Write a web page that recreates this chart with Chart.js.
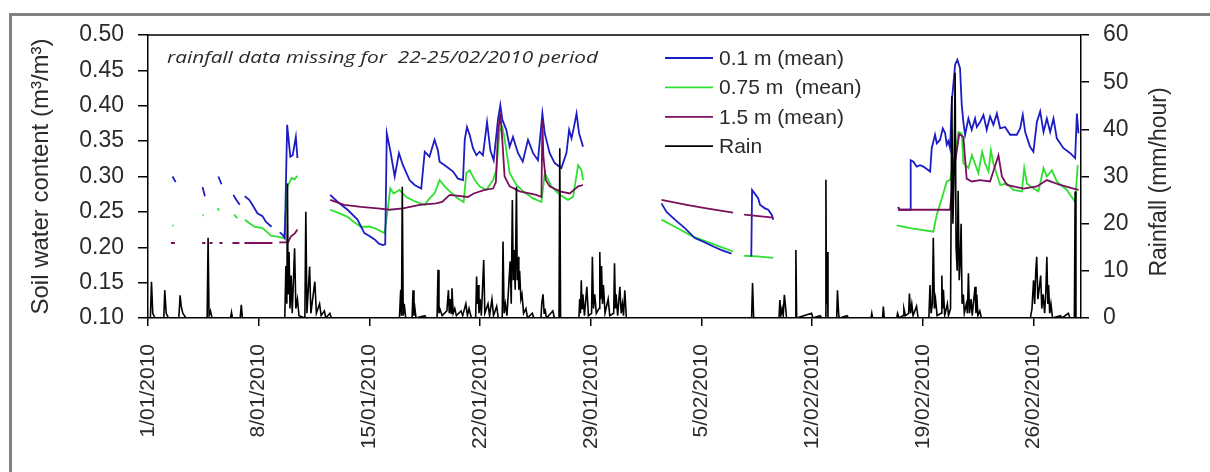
<!DOCTYPE html>
<html>
<head>
<meta charset="utf-8">
<script src="https://cdn.jsdelivr.net/npm/chart.js@4/dist/chart.umd.min.js"></script>
<style>
  html, body { margin: 0; padding: 0; background: #fff; overflow: hidden; }
  #frame { position: absolute; left: 9px; top: 13px; right: 0; bottom: 0;
           border-top: 3px solid #808080; border-left: 3px solid #808080; }
  #c { position: absolute; left: 0; top: 0; }
</style>
</head>
<body>
<div id="frame"></div>
<canvas id="c" width="1210" height="472"></canvas>
<script>
// days counted from 1/01/2010 00:00, null value = gap in record
const tickLabels = ['1/01/2010', '8/01/2010', '15/01/2010', '22/01/2010', '29/01/2010',
                    '5/02/2010', '12/02/2010', '19/02/2010', '26/02/2010'];

const blueDays = [1.55, 1.75, 2.5, 3.45, 3.6, 4.0, 4.45, 4.65, 5.0, 5.4, 5.55, 5.8, 5.95,
  6.12, 6.4, 6.6, 6.92, 7.24, 7.45, 7.81, 8.1, 8.33, 8.5, 8.65, 8.8, 9.0, 9.15, 9.35, 9.45, 10.5,
  11.52, 12.0, 12.62, 13.25, 13.68, 14.0, 14.33, 14.6, 14.85, 15.0, 15.1, 15.32, 15.6, 15.87,
  16.12, 16.54, 16.86, 17.28, 17.5, 17.8, 18.12, 18.33, 18.44, 18.87, 19.29, 19.6, 19.92, 20.03,
  20.17, 20.34, 20.55, 20.77, 20.97, 21.18, 21.44, 21.65, 21.86, 22.13, 22.28, 22.41, 22.66,
  22.87, 23.08, 23.4, 23.7, 24.03, 24.35, 24.66, 24.94, 25.09, 25.4, 25.72, 26.14, 26.46, 26.63,
  26.78, 26.92, 27.1, 27.26, 27.51, 30,
  32.47, 32.79, 33.32, 33.95, 34.58, 35.11, 35.74, 36.27, 36.9, 37.5, 38.15, 38.2, 38.59, 38.7,
  39.01, 39.22, 39.44, 39.54, 43,
  47.45, 47.5, 48.19, 48.23, 48.4, 48.61, 48.82, 49.03, 49.46, 49.56, 49.77, 49.88, 50.09, 50.26,
  50.41, 50.51, 50.61, 50.72, 50.83, 51.04, 51.18, 51.35, 51.46, 51.56, 51.67, 51.88, 52.09,
  52.3, 52.41, 52.62, 52.83, 53.04, 53.25, 53.46, 53.68, 53.89, 54.2, 54.52, 54.94, 55.15, 55.32,
  55.47, 55.78, 55.99, 56.21, 56.42, 56.63, 56.84, 57.05, 57.26, 57.47, 57.89, 58.32, 58.63,
  58.74, 58.84];
const blueVals = [0.300, 0.292, null, 0.285, 0.272, null, 0.300, 0.289, null, 0.274, 0.268, 0.260, null,
  0.272, 0.267, 0.260, 0.248, 0.244, 0.236, 0.229, null, 0.221, 0.218, 0.213, 0.373, 0.328, 0.330, 0.356, 0.326, null,
  0.274, 0.264, 0.253, 0.239, 0.220, 0.216, 0.211, 0.205, 0.203, 0.204, 0.361, 0.337, 0.300, 0.333,
  0.316, 0.295, 0.288, 0.283, 0.335, 0.328, 0.352, 0.337, 0.321, 0.314, 0.307, 0.297, 0.295, 0.352,
  0.370, 0.359, 0.340, 0.330, 0.335, 0.330, 0.377, 0.337, 0.323, 0.380, 0.401, 0.380, 0.366,
  0.342, 0.356, 0.333, 0.321, 0.352, 0.333, 0.323, 0.389, 0.361, 0.333, 0.319, 0.312, 0.333, 0.366,
  0.354, 0.368, 0.389, 0.361, 0.342, null,
  0.262, 0.250, 0.239, 0.227, 0.213, 0.208, 0.201, 0.196, 0.191, null, 0.187, 0.281, 0.269, 0.260,
  0.255, 0.253, 0.246, 0.239, null,
  0.257, 0.253, 0.253, 0.323, 0.321, 0.314, 0.316, 0.314, 0.307, 0.340, 0.359, 0.347, 0.352, 0.368,
  0.361, 0.345, 0.350, 0.340, 0.406, 0.458, 0.465, 0.453, 0.401, 0.377, 0.359, 0.382, 0.366,
  0.382, 0.370, 0.377, 0.387, 0.366, 0.385, 0.373, 0.389, 0.368, 0.370, 0.359, 0.359, 0.368, 0.387,
  0.363, 0.342, 0.335, 0.377, 0.392, 0.363, 0.382, 0.363, 0.382, 0.354, 0.340, 0.333, 0.326,
  0.389, 0.361];

const greenDays = [1.55, 1.62, 2.5, 3.45, 3.52, 4.0, 4.4, 4.5, 5.0, 5.45, 5.65, 5.95,
  6.12, 6.72, 7.24, 7.6, 7.81, 8.2, 8.6, 8.82, 9.08, 9.25, 9.45, 10.5,
  11.52, 12.0, 12.62, 13.0, 13.46, 14.0, 14.33, 14.96, 15.1, 15.32, 15.53, 15.9, 16.33, 16.96,
  17.5, 17.8, 18.12, 18.44, 18.76, 19.08, 19.6, 19.96, 20.13, 20.34, 20.66, 20.97, 21.4, 21.82,
  22.03, 22.24, 22.41, 22.56, 22.87, 23.3, 23.72, 24.35, 24.88, 25.09, 25.51, 26.04, 26.56,
  26.88, 27.2, 27.41, 27.51, 30,
  32.47, 33.32, 33.9, 34.48, 35.32, 36.16, 37.0, 37.4, 37.7, 38.5, 39.54, 43,
  47.35, 48.19, 49.66, 49.88, 50.2, 50.51, 50.72, 51.04, 51.25, 51.46, 51.56, 51.88, 52.1, 52.3,
  52.51, 52.75, 52.94, 53.15, 53.3, 53.46, 53.89, 54.31, 54.73, 55.26, 55.41, 55.58, 55.99,
  56.31, 56.63, 56.84, 57.16, 57.47, 58.1, 58.63, 58.79];
const greenVals = [0.231, 0.230, null, 0.246, 0.245, null, 0.255, 0.252, null, 0.246, 0.241, null,
  0.239, 0.229, 0.227, 0.220, 0.216, 0.215, 0.213, 0.286, 0.298, 0.296, 0.301, null,
  0.253, 0.249, 0.243, 0.236, 0.229, 0.229, 0.227, 0.220, 0.243, 0.283, 0.276, 0.281, 0.271, 0.264,
  0.260, 0.269, 0.276, 0.295, 0.286, 0.279, 0.269, 0.264, 0.305, 0.309, 0.295, 0.286, 0.281, 0.295,
  0.309, 0.366, 0.370, 0.352, 0.305, 0.288, 0.279, 0.269, 0.264, 0.305, 0.286, 0.274, 0.267,
  0.271, 0.316, 0.309, 0.295, null,
  0.239, 0.229, 0.222, 0.215, 0.208, 0.201, 0.194, null, 0.188, 0.187, 0.185, null,
  0.231, 0.227, 0.222, 0.246, 0.269, 0.293, 0.295, 0.330, 0.363, 0.361, 0.319, 0.312, 0.330, 0.318,
  0.305, 0.335, 0.318, 0.307, 0.337, 0.318, 0.288, 0.290, 0.281, 0.279, 0.312, 0.290, 0.283,
  0.279, 0.312, 0.300, 0.309, 0.293, 0.281, 0.264, 0.316];

const purpleDays = [1.45, 1.7, 2.5, 3.42, 3.63, 3.75, 3.89, 4.08, 4.3, 4.52, 4.71, 5.0, 5.34, 5.78, 5.95,
  6.1, 7.87, 8.1, 8.3, 8.85, 9.03, 9.3, 9.45, 10.5,
  11.52, 12.41, 13.46, 14.52, 15.28, 16.12, 17.18, 18.23, 18.6, 19.08, 20.23, 20.6, 21.29, 21.82,
  22.0, 22.13, 22.28, 22.41, 22.55, 22.87, 23.5, 24.56, 24.88, 24.94, 25.0, 25.15, 25.4, 26.04,
  26.67, 27.2, 27.51, 30,
  32.47, 34.06, 35.32, 37.0, 37.4, 37.7, 39.54, 43,
  47.45, 47.5, 50.72, 50.9, 51.3, 51.56, 51.77, 52.09, 52.62, 53.25, 53.78, 54.0, 54.31, 54.73,
  55.36, 56.21, 56.84, 57.68, 58.53, 58.84];
const purpleVals = [0.206, 0.206, null, 0.206, 0.206, null, 0.206, 0.206, null, 0.206, 0.206, null, 0.206, 0.206, null,
  0.206, 0.206, null, 0.207, 0.207, 0.215, 0.220, 0.225, null,
  0.267, 0.260, 0.257, 0.255, 0.253, 0.255, 0.260, 0.262, 0.264, 0.274, 0.271, 0.276, 0.281, 0.283,
  0.292, 0.360, 0.390, 0.350, 0.300, 0.286, 0.279, 0.274, 0.271, 0.380, 0.330, 0.295, 0.286, 0.279,
  0.276, 0.286, 0.288, null,
  0.267, 0.260, 0.255, 0.249, null, 0.246, 0.242, null,
  0.257, 0.253, 0.253, 0.300, 0.360, 0.356, 0.297, 0.293, 0.295, 0.293, 0.330, 0.300, 0.288, 0.286,
  0.283, 0.286, 0.295, 0.288, 0.283, 0.281];

const rainDays = [0, 0.15, 0.22, 0.3, 0.45, 1.0, 1.06, 1.15, 1.3, 1.95, 2.03, 2.1, 2.2, 2.4,
  3.74, 3.8, 3.86, 3.95, 4.05, 5.22, 5.28, 5.34, 5.83, 5.9, 5.97,
  8.65, 8.72, 8.78, 8.82, 8.86, 8.92, 8.98, 9.05, 9.12, 9.27, 9.35, 9.45, 9.55, 9.92, 9.98, 10.05,
  10.22, 10.3, 10.55, 10.65, 10.85, 10.95, 11.15, 11.25, 11.5, 11.6,
  15.9, 15.98, 16.03, 16.08, 16.14, 16.2, 16.3, 16.7, 16.76, 16.82, 16.88, 16.95, 17.5, 17.6,
  18.28, 18.34, 18.4, 18.45, 18.6, 18.9, 19.0, 19.05, 19.12, 19.17, 19.22, 19.3, 19.4, 19.5,
  19.8, 19.9, 20.1, 20.2, 20.3, 20.45, 20.72, 20.78, 20.83, 20.87, 20.93, 21.0, 21.08, 21.23,
  21.3, 21.5, 21.6, 21.75, 21.85, 22.05, 22.15, 22.4, 22.45, 22.52, 22.6, 22.7, 22.9, 22.97,
  23.04, 23.1, 23.15, 23.22, 23.3, 23.35, 23.4, 23.45, 23.5, 23.58, 23.65, 23.75, 23.9, 24.0,
  24.3, 24.4, 24.85, 24.9, 24.98, 25.05, 25.1, 25.2, 25.6, 25.7, 25.99, 26.04, 26.09,
  27.25, 27.3, 27.35, 27.4, 27.45, 27.5, 27.6, 27.75, 27.85, 28.05, 28.1, 28.17, 28.25, 28.35,
  28.52, 28.57, 28.62, 28.68, 28.74, 28.8, 28.9, 29.1, 29.2, 29.45, 29.5, 29.56, 29.6, 29.7,
  29.84, 29.92, 30.0, 30.07, 30.15, 30.25,
  38.17, 38.23, 38.3, 39.9, 39.96, 40.02, 40.1, 40.17, 40.24, 40.3, 40.38, 40.92, 40.97, 41.02,
  41.96, 42.05, 42.5, 42.6, 42.82, 42.87, 42.9, 42.94, 43.0, 43.55, 43.6, 43.68, 43.75, 44.2, 44.3,
  45.72, 45.77, 45.82, 46.45, 46.5, 46.56, 47.35, 47.4, 47.5, 47.75, 47.8, 47.9, 48.1, 48.15,
  48.22, 48.3, 48.38, 48.6, 48.7, 49.38, 49.45, 49.52, 49.6, 49.66, 49.73, 49.8, 49.9,
  50.15, 50.2, 50.25, 50.3, 50.38, 50.55, 50.62, 50.75, 50.83, 50.9, 50.97, 51.04, 51.1, 51.17,
  51.23, 51.3, 51.36, 51.42, 51.48, 51.56, 51.62, 51.75, 51.82, 51.88, 51.95, 52.05, 52.12,
  52.3, 52.36, 52.41, 52.48, 52.6, 52.7,
  55.8, 55.9, 56.0, 56.07, 56.14, 56.2, 56.27, 56.35, 56.45, 56.52, 56.6, 56.7, 56.78, 56.84,
  56.9, 56.95, 57.02, 57.1, 57.2, 57.7, 57.8, 58.2, 58.3, 58.58, 58.63, 58.68, 59];
const rainMm = [0, 0, 7.7, 1, 0, 0, 5.9, 1, 0, 0, 4.8, 2.5, 1, 0,
  0, 17, 0.5, 1.5, 0, 0, 1.2, 0, 0, 2.8, 0,
  0, 11, 3, 28.5, 5, 14, 2, 9, 1, 14.8, 2, 4, 0.5, 0, 22.5, 1,
  10.9, 1, 7.7, 1, 3, 0.5, 1.5, 0, 1, 0,
  0, 6, 0.5, 27.8, 0.5, 3, 0, 0, 5.9, 0.5, 2, 0, 0.5, 0,
  0, 10.2, 1, 2, 0.5, 1.5, 5.9, 1, 4, 1, 6.3, 1, 2, 0.5,
  1.5, 0.5, 3, 0.5, 2, 0, 0, 8.8, 3, 7, 1, 4, 0.5, 12.3,
  1, 3, 0.5, 4, 0.5, 2.5, 0, 0, 16.2, 1, 3, 0.5, 12, 3,
  25, 8, 14.4, 6, 27.8, 8, 13, 6, 10, 4, 5, 1, 2, 0,
  1, 0, 0, 3, 5, 1, 2, 0, 1.5, 0, 0, 36, 0,
  0, 4, 1, 8, 2, 5, 0.5, 6.6, 0.5, 1, 13, 2, 5, 1,
  2, 14, 4, 11, 3, 7, 1, 4, 0.5, 1, 11.6, 2, 5, 0.5,
  6.6, 1, 3, 0.5, 5.9, 0,
  0, 7.4, 0, 0, 3.8, 0.5, 2, 0.5, 4.9, 3, 0, 0, 14.4, 0,
  1, 0, 0.5, 0, 0, 29.3, 3, 14, 0, 0, 5.9, 0.5, 0, 0.5, 0,
  0, 1, 0, 0, 2.4, 0, 0, 1, 0, 0.5, 2, 0.5, 1, 5.2,
  1, 3, 0.5, 2.5, 0, 0, 7, 1, 3, 17, 2, 4, 0.5,
  1, 9, 2, 6, 0.5, 3, 0.5, 2, 47, 20, 30, 52, 15, 10,
  27, 8, 12, 20, 3, 5, 1, 3, 1, 9.5, 1, 4, 0.5,
  6.6, 1, 5, 0.5, 1.5, 0,
  0, 2, 8, 3, 10, 13, 4, 6, 9, 2, 5, 1, 6, 13,
  3, 7, 1, 3, 0, 0.5, 0, 1, 0, 0, 26.8, 0, 0];

const seriesNames = ['0.1 m (mean)', '0.75 m  (mean)', '1.5 m (mean)', 'Rain'];
const seriesColors = ['#1c1cc4', '#2ee02e', '#7a0f5e', '#000000'];

function pts(days, vals) {
  return days.map((d, i) => ({ x: d, y: vals[i] }));
}

const FONT = "'Liberation Sans', Arial, sans-serif";
const TXT = '#2b2b2b';

const decorations = {
  id: 'decorations',
  afterDraw(chart) {
    const ctx = chart.ctx;
    const a = chart.chartArea;
    ctx.save();
    // top edge of plot box
    ctx.strokeStyle = '#000';
    ctx.lineWidth = 1.5;
    ctx.beginPath();
    ctx.moveTo(a.left, a.top);
    ctx.lineTo(a.right, a.top);
    ctx.stroke();

    // legend
    ctx.font = '21px ' + FONT;
    ctx.textBaseline = 'middle';
    seriesNames.forEach((name, i) => {
      const y = 58 + i * 29.4;
      ctx.strokeStyle = seriesColors[i];
      ctx.lineWidth = 1.8;
      ctx.beginPath();
      ctx.moveTo(665, y);
      ctx.lineTo(713, y);
      ctx.stroke();
      ctx.fillStyle = TXT;
      ctx.fillText(name, 719, y + 1);
    });

    // note
    const note = 'rainfall data missing for  22-25/02/2010 period';
    ctx.font = "italic 16px 'Open Sans', sans-serif";
    const w = ctx.measureText(note).width;
    ctx.translate(167, 58);
    ctx.scale(431 / w, 1);
    ctx.fillStyle = TXT;
    ctx.textAlign = 'left';
    ctx.fillText(note, 0, 0);
    ctx.setTransform(1, 0, 0, 1, 0, 0);

    // right axis title, reading upwards
    ctx.translate(1160, 182);
    ctx.rotate(-Math.PI / 2);
    ctx.font = '23px ' + FONT;
    ctx.textAlign = 'center';
    ctx.fillStyle = TXT;
    ctx.fillText('Rainfall (mm/hour)', 0, 0);
    ctx.restore();
  }
};

const ctx = document.getElementById('c').getContext('2d');
const chart = new Chart(ctx, {
  type: 'line',
  data: {
    datasets: [
      { label: seriesNames[0], data: pts(blueDays, blueVals), borderColor: seriesColors[0], yAxisID: 'y', order: 2 },
      { label: seriesNames[1], data: pts(greenDays, greenVals), borderColor: seriesColors[1], yAxisID: 'y', order: 3 },
      { label: seriesNames[2], data: pts(purpleDays, purpleVals), borderColor: seriesColors[2], yAxisID: 'y', order: 1 },
      { label: seriesNames[3], data: pts(rainDays, rainMm), borderColor: seriesColors[3], yAxisID: 'yRain', order: 0, borderWidth: 1.6 }
    ]
  },
  options: {
    responsive: false,
    animation: false,
    spanGaps: false,
    layout: { padding: { top: 35, left: 0, right: 0, bottom: 0 } },
    elements: {
      point: { radius: 0 },
      line: { borderWidth: 1.8, tension: 0 }
    },
    plugins: { legend: { display: false }, tooltip: { enabled: false } },
    scales: {
      x: {
        type: 'linear', min: 0, max: 59,
        afterFit: s => { s.height = 154; },
        afterBuildTicks: s => { s.ticks = tickLabels.map((_, i) => ({ value: i * 7 })); },
        ticks: {
          autoSkip: false, minRotation: 90, maxRotation: 90, padding: 18,
          color: TXT, font: { family: FONT, size: 21 },
          callback: v => tickLabels[Math.round(v / 7)]
        },
        grid: { drawOnChartArea: false, tickLength: 8, color: '#000', lineWidth: 1.5 },
        border: { color: '#000', width: 1.5 }
      },
      y: {
        position: 'left', min: 0.10, max: 0.50,
        afterFit: s => { s.width = 148; },
        ticks: {
          stepSize: 0.05, padding: 14, color: TXT, font: { family: FONT, size: 23 },
          callback: v => v.toFixed(2)
        },
        grid: { drawOnChartArea: false, tickLength: 10, color: '#000', lineWidth: 1.5 },
        border: { color: '#000', width: 1.5 },
        title: {
          display: true, text: 'Soil water content (m³/m³)', color: TXT,
          font: { family: FONT, size: 24 }, padding: { top: 27, bottom: 0 }
        }
      },
      yRain: {
        position: 'right', min: 0, max: 60,
        afterFit: s => { s.width = 129; },
        ticks: { stepSize: 10, padding: 14, color: TXT, font: { family: FONT, size: 23 } },
        grid: { drawOnChartArea: false, tickLength: 8, color: '#000', lineWidth: 1.5 },
        border: { color: '#000', width: 1.5 }
      }
    }
  },
  plugins: [decorations]
});
</script>
</body>
</html>
